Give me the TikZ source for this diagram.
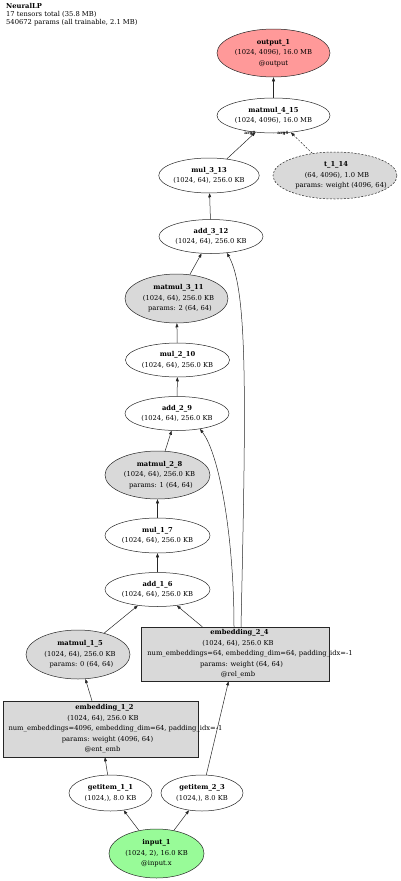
\documentclass[tikz,border=0pt]{standalone}
\usepackage{fontspec}
\setmainfont{DejaVu Serif}
\usetikzlibrary{shapes.geometric,arrows.meta}
\definecolor{outred}{HTML}{FF9999}
\definecolor{ingreen}{HTML}{98FB98}
\definecolor{pgray}{HTML}{D9D9D9}
\newcommand\nfont{\fontsize{6.75}{10.5}\selectfont}
\newcommand\tfont{\fontsize{6.75}{7.8}\selectfont}
\newcommand\lfont{\fontsize{4.3}{5}\selectfont\bfseries}
\newcommand\shl[2]{\makebox[0pt]{\hspace*{#1}#2}}
\begin{document}
\begin{tikzpicture}[x=1pt,y=-1pt,
  ell/.style={ellipse, draw=black!85, line width=0.5pt, inner sep=0pt, align=center, font=\nfont},
  box/.style={rectangle, draw=black!85, line width=0.5pt, inner sep=0pt, align=center, font=\nfont, fill=pgray},
  edge/.style={draw=black!85, line width=0.5pt, -{Triangle[length=4pt,width=3pt]}},
  lbl/.style={inner sep=0pt, font=\lfont}]
\useasboundingbox (0,0) rectangle (400,881);

\node[anchor=north west, align=left, inner sep=0pt, font=\tfont] (title) at (6,3.5)
  {\textbf{NeuralLP}\\17 tensors total (35.8 MB)\\540672 params (all trainable, 2.1 MB)};

\node[ell, fill=outred, minimum width=113pt, minimum height=48pt] (out1) at (273.5,53)
  {\textbf{output\_1}\\(1024, 4096), 16.0 MB\\@output};
\node[ell, minimum width=113pt, minimum height=35pt] (mm415) at (273.5,115.5)
  {\textbf{matmul\_4\_15}\\(1024, 4096), 16.0 MB};
\node[ell, minimum width=100pt, minimum height=35pt] (mul313) at (209,175.5)
  {\textbf{mul\_3\_13}\\(1024, 64), 256.0 KB};
\node[ell, fill=pgray, dashed, dash pattern=on 2pt off 1.5pt, minimum width=124pt, minimum height=47pt] (t114) at (335,175.5)
  {\shl{2pt}{\textbf{t\_1\_14}}\\\shl{4pt}{(64, 4096), 1.0 MB}\\\shl{12pt}{params: weight (4096, 64)}};
\node[ell, minimum width=104pt, minimum height=34pt] (add312) at (211,236.5)
  {\textbf{add\_3\_12}\\(1024, 64), 256.0 KB};
\node[ell, fill=pgray, minimum width=103pt, minimum height=49pt] (mm311) at (176.5,298.5)
  {\shl{4pt}{\textbf{matmul\_3\_11}}\\\shl{4pt}{(1024, 64), 256.0 KB}\\\shl{7pt}{params: 2 (64, 64)}};
\node[ell, minimum width=104pt, minimum height=34pt] (mul210) at (177.5,360)
  {\textbf{mul\_2\_10}\\(1024, 64), 256.0 KB};
\node[ell, minimum width=104pt, minimum height=34pt] (add29) at (177,413.5)
  {\textbf{add\_2\_9}\\(1024, 64), 256.0 KB};
\node[ell, fill=pgray, minimum width=105pt, minimum height=48pt] (mm28) at (157.5,475)
  {\shl{4pt}{\textbf{matmul\_2\_8}}\\\shl{4pt}{(1024, 64), 256.0 KB}\\\shl{7pt}{params: 1 (64, 64)}};
\node[ell, minimum width=105pt, minimum height=35pt] (mul17) at (157.5,535.5)
  {\textbf{mul\_1\_7}\\(1024, 64), 256.0 KB};
\node[ell, minimum width=105pt, minimum height=34pt] (add16) at (157.5,589.5)
  {\textbf{add\_1\_6}\\(1024, 64), 256.0 KB};
\node[ell, fill=pgray, minimum width=104pt, minimum height=49pt] (mm15) at (78,654.5)
  {\shl{4pt}{\textbf{matmul\_1\_5}}\\\shl{4pt}{(1024, 64), 256.0 KB}\\\shl{7pt}{params: 0 (64, 64)}};
\node[box, minimum width=188pt, minimum height=54pt] (emb24) at (235,654)
  {\shl{9pt}{\textbf{embedding\_2\_4}}\\\shl{6pt}{(1024, 64), 256.0 KB}\\\shl{30pt}{num\_embeddings=64, embedding\_dim=64, padding\_idx=-1}\\\shl{13pt}{params: weight (64, 64)}\\\shl{6pt}{@rel\_emb}};
\node[box, minimum width=195pt, minimum height=56pt] (emb12) at (100.5,729)
  {\shl{8pt}{\textbf{embedding\_1\_2}}\\\shl{5pt}{(1024, 64), 256.0 KB}\\\shl{30pt}{num\_embeddings=4096, embedding\_dim=64, padding\_idx=-1}\\\shl{14pt}{params: weight (4096, 64)}\\\shl{4pt}{@ent\_emb}};
\node[ell, minimum width=83pt, minimum height=36pt] (gi11) at (110.5,793)
  {\textbf{getitem\_1\_1}\\(1024,), 8.0 KB};
\node[ell, minimum width=82pt, minimum height=36pt] (gi23) at (202,793)
  {\textbf{getitem\_2\_3}\\(1024,), 8.0 KB};
\node[ell, fill=ingreen, minimum width=95pt, minimum height=49pt] (in1) at (156.5,853.5)
  {\textbf{input\_1}\\(1024, 2), 16.0 KB\\@input.x};

\node[lbl] (l0) at (250,133) {arg0};
\node[lbl] (l1) at (283,133) {arg1};

\draw[edge] (mm415) -- (out1);
\draw[edge] (mul313) -- (mm415);
\draw[edge, dashed, dash pattern=on 2pt off 1.5pt] (t114) -- (mm415);
\draw[edge] (add312) -- (mul313);
\draw[edge] (mm311) -- (add312);
\draw[edge] (mul210) -- (mm311);
\draw[edge] (add29) -- (mul210);
\draw[edge] (mm28) -- (add29);
\draw[edge] (mul17) -- (mm28);
\draw[edge] (add16) -- (mul17);
\draw[edge] (mm15) -- (add16);
\draw[edge] (emb24) -- (add16);
\draw[edge] ([xshift=6pt]emb24.north) .. controls (246,400) and (248,290) .. (add312.-46);
\draw[edge] ([xshift=-1pt]emb24.north) .. controls (234,540) and (220,455) .. (add29.-34);
\draw[edge] (emb12) -- (mm15);
\draw[edge] (gi11) -- (emb12);
\draw[edge] (gi23) -- (emb24);
\draw[edge] (in1) -- (gi11);
\draw[edge] (in1) -- (gi23);
\end{tikzpicture}
\end{document}
